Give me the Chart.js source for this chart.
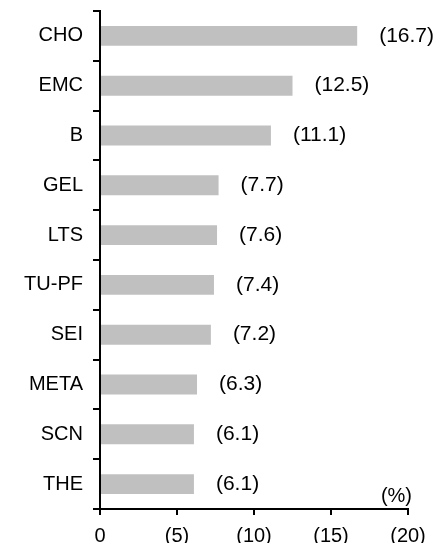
<!DOCTYPE html>
<html>
<head>
<meta charset="utf-8">
<script src="https://cdn.jsdelivr.net/npm/chart.js@4/dist/chart.umd.min.js"></script>
<style>
  html, body { margin: 0; padding: 0; background: #fff; }
  #wrap { position: relative; width: 440px; height: 543px; }
</style>
</head>
<body>
<div id="wrap"><canvas id="c"></canvas></div>
<script>
const categories = ["CHO", "EMC", "B", "GEL", "LTS", "TU-PF", "SEI", "META", "SCN", "THE"];
const values = [16.7, 12.5, 11.1, 7.7, 7.6, 7.4, 7.2, 6.3, 6.1, 6.1];
const xTickValues = [0, 5, 10, 15, 20];
const unitLabel = "(%)";

const FONT = "'Liberation Sans', Arial, sans-serif";

const valueLabels = {
  id: 'valueLabels',
  afterDatasetsDraw(chart) {
    const ctx = chart.ctx;
    const meta = chart.getDatasetMeta(0);
    ctx.save();
    ctx.font = "21px " + FONT;
    ctx.fillStyle = "#000";
    ctx.textAlign = "left";
    ctx.textBaseline = "middle";
    meta.data.forEach((bar, i) => {
      ctx.fillText("(" + values[i].toFixed(1) + ")", bar.x + 22, bar.y);
    });
    const xs = chart.scales.x;
    ctx.font = "20px " + FONT;
    ctx.textAlign = "right";
    ctx.fillText(unitLabel, xs.getPixelForValue(xTickValues[xTickValues.length - 1]) + 4, chart.chartArea.bottom - 13);
    ctx.restore();
  }
};

new Chart(document.getElementById('c'), {
  type: 'bar',
  data: {
    labels: categories,
    datasets: [{
      data: values,
      backgroundColor: '#c0c0c0',
      borderWidth: 0,
      categoryPercentage: 1.0,
      barPercentage: 0.4
    }]
  },
  plugins: [valueLabels],
  options: {
    indexAxis: 'y',
    responsive: true,
    maintainAspectRatio: false,
    animation: false,
    events: [],
    layout: { padding: { top: 11, right: 32, left: 0, bottom: 0 } },
    plugins: { legend: { display: false }, tooltip: { enabled: false } },
    scales: {
      x: {
        type: 'linear',
        min: 0, max: 20,
        afterBuildTicks(scale) { scale.ticks = xTickValues.map(v => ({ value: v })); },
        afterFit(scale) { scale.height = 34; },
        ticks: {
          color: '#000',
          font: { family: FONT, size: 20 },
          padding: 9,
          maxRotation: 0,
          callback: (v) => v === 0 ? "0" : "(" + v + ")"
        },
        grid: { drawOnChartArea: false, drawTicks: true, tickLength: 6, color: '#000', lineWidth: 2 },
        border: { display: true, color: '#000', width: 2 }
      },
      y: {
        type: 'category',
        offset: true,
        afterFit(scale) { scale.width = 100; scale.paddingTop = 0; scale.paddingBottom = 0; },
        ticks: {
          color: '#000',
          font: { family: FONT, size: 20 },
          padding: 10
        },
        grid: { offset: true, drawOnChartArea: false, drawTicks: true, tickLength: 7, color: '#000', lineWidth: 2 },
        border: { display: true, color: '#000', width: 2 }
      }
    }
  }
});
</script>
</body>
</html>
